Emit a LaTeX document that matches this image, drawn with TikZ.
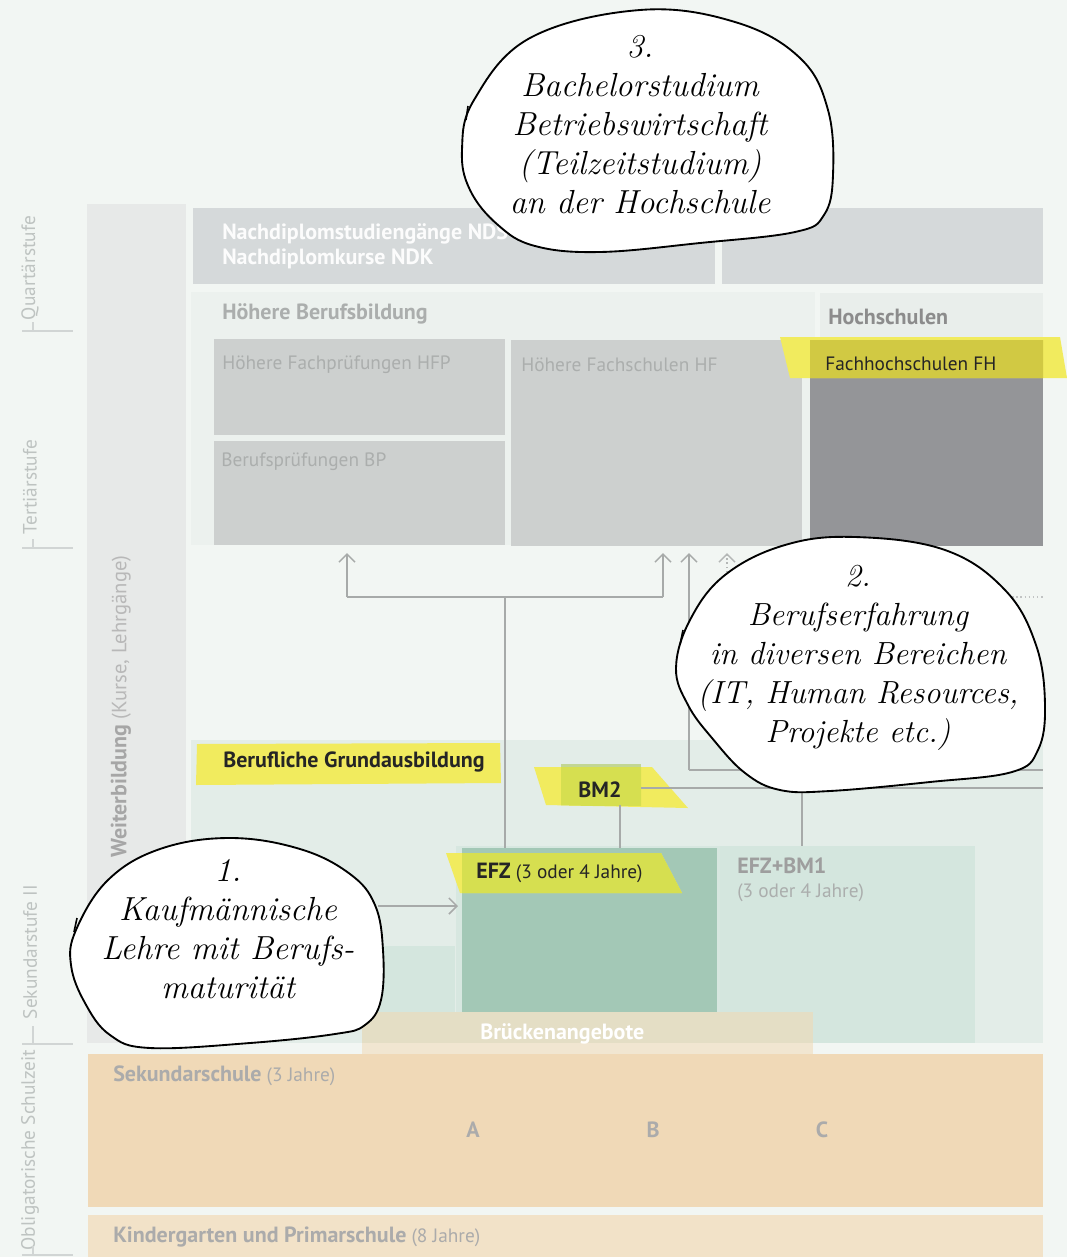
\documentclass[tikz,border=0pt]{standalone}
\usepackage{fontspec}
\newfontfamily\dsans{PT Sans}
\usetikzlibrary{arrows.meta}
\definecolor{bg}{HTML}{F2F6F3}
\definecolor{wbbar}{HTML}{E7E9E8}
\definecolor{ndgray}{HTML}{D5D9DA}
\definecolor{hbpanel}{HTML}{ECF1EE}
\definecolor{hspanel}{HTML}{E9EEEB}
\definecolor{boxgray}{HTML}{CDD0CF}
\definecolor{fhdark}{HTML}{949598}
\definecolor{hlyellow}{HTML}{F1EB5E}
\definecolor{olive}{HTML}{D1C943}
\definecolor{greenyellow}{HTML}{D6DF50}
\definecolor{grundpanel}{HTML}{E3EDE8}
\definecolor{efzgreen}{HTML}{A3C8B6}
\definecolor{efzlight}{HTML}{D4E6DE}
\definecolor{bruecke}{HTML}{E4DEC5}
\definecolor{bruecketwo}{HTML}{F1E6D1}
\definecolor{sekcol}{HTML}{F0D9B7}
\definecolor{kindcol}{HTML}{F2E2C8}
\definecolor{linegray}{HTML}{A7AAA9}
\definecolor{txtgray}{HTML}{ABAEAD}
\definecolor{sidegray}{HTML}{BEC3C1}
\definecolor{darktxt}{HTML}{252525}
\newcommand\bigbold[1]{{\fontsize{16.5}{17}\selectfont\bfseries #1}}
\tikzset{
  lbl/.style={inner sep=0, anchor=west, font=\dsans\fontsize{14.5}{17}\selectfont},
  blbl/.style={lbl, font=\dsans\bfseries\fontsize{16.5}{18}\selectfont},
  side/.style={inner sep=0, rotate=90, text=sidegray, font=\dsans\fontsize{14.5}{16}\selectfont},
  conn/.style={draw=linegray, line width=1.3pt},
  arr/.style={conn, -{Straight Barb[length=6pt,width=12pt,line width=1.1pt]}},
  dotarr/.style={draw=linegray!85, line width=1.1pt, dotted, -{Straight Barb[length=6pt,width=12pt,line width=1.1pt]}},
  tick/.style={draw=sidegray!70, line width=0.9pt},
  bubble/.style={draw=black, fill=white, line width=1.4pt, line join=round},
  handtxt/.style={inner sep=0, align=center, font=\fontsize{25}{29.25}\selectfont\itshape},
}
\begin{document}
\begin{tikzpicture}[x=0.75pt,y=-0.75pt]
\useasboundingbox (0,0) rectangle (1067,1257);
\fill[bg] (0,0) rectangle (1067,1257);

% left Weiterbildung bar
\fill[wbbar] (87,204) rectangle (186,1043);

% quartaer
\fill[ndgray] (193,208) rectangle (715,284);
\fill[ndgray] (722,208) rectangle (1043,284);

% tertiaer panels
\fill[hbpanel] (191,292) rectangle (815,545);
\fill[hspanel] (820,293) rectangle (1043,545);
\fill[boxgray] (214,339) rectangle (505,435);
\fill[boxgray] (214,441) rectangle (505,545);
\fill[boxgray] (511,340) rectangle (802,546);
\fill[fhdark] (810,340) rectangle (1043,546);
% FH highlight
\fill[hlyellow] (780,337) -- (1060,337) -- (1067,378) -- (790,378) -- cycle;
\begin{scope}
  \clip (810,340) rectangle (1043,546);
  \fill[olive] (780,337) -- (1060,337) -- (1067,378) -- (790,378) -- cycle;
\end{scope}

% Grundausbildung panel
\fill[grundpanel] (191,740) rectangle (1043,1043);
\fill[efzlight] (362,946) rectangle (455,1043);
\fill[efzlight!80!grundpanel] (456,846) rectangle (720,1043);
\fill[efzgreen] (462,848) rectangle (717,1015);
\fill[efzlight] (720,846) rectangle (975,1043);
% Brueckenangebote
\fill[bruecke] (362,1012) rectangle (813,1043);
\fill[bruecketwo] (362,1043) rectangle (813,1054);

% yellow labels
\fill[hlyellow] (197,744) -- (500,743) -- (501,783) -- (196,785) -- cycle;
\fill[efzgreen!60!hlyellow] (561,764) rectangle (641,805);
\fill[hlyellow] (534,767) -- (652,767) -- (688,808) -- (546,805) -- cycle;
\begin{scope}
  \clip (561,764) rectangle (641,805);
  \fill[greenyellow] (534,767) -- (652,767) -- (688,808) -- (546,805) -- cycle;
\end{scope}
\fill[hlyellow] (446,853) -- (661,853) -- (682,893) -- (460,893) -- cycle;
\begin{scope}
  \clip (462,848) rectangle (717,1015);
  \fill[greenyellow] (446,853) -- (661,853) -- (682,893) -- (460,893) -- cycle;
\end{scope}

% bottom: obligatorische Schulzeit
\fill[sekcol] (88,1054) rectangle (1043,1207);
\fill[kindcol] (88,1215) rectangle (1043,1257);

% connectors
\coordinate (bpArr) at (347,553);
\coordinate (hfArrA) at (663,553);
\coordinate (hfArrB) at (689,553);
\coordinate (hfArrC) at (727,553);
\coordinate (jA) at (347,597);
\coordinate (jB) at (663,597);
\coordinate (jV) at (505,597);
\coordinate (efzTop) at (505,848);
\coordinate (expA) at (689,770);
\coordinate (expEnd) at (1043,770);
\coordinate (dotJ) at (727,597);
\coordinate (dotEnd) at (1043,597);
\coordinate (bmA) at (641,788);
\coordinate (bmEnd) at (1043,788);
\coordinate (bmJ) at (802,788);
\coordinate (bmoneTop) at (802,846);
\coordinate (bmB) at (620,805);
\coordinate (bmC) at (620,848);
\coordinate (lehreA) at (378,906);
\coordinate (lehreB) at (458,906);

\draw[arr] (jA) -- (bpArr);
\draw[conn] (jA) -- (jB);
\draw[arr] (jB) -- (hfArrA);
\draw[conn] (jV) -- (efzTop);
\draw[arr] (expA) -- (hfArrB);
\draw[conn] (expA) -- (expEnd);
\draw[dotarr] (dotJ) -- (hfArrC);
\draw[draw=linegray!70, line width=1.1pt, dotted] (dotJ) -- (dotEnd);
\draw[conn] (bmA) -- (bmEnd);
\draw[conn] (bmJ) -- (bmoneTop);
\draw[conn] (bmB) -- (bmC);
\draw[arr] (lehreA) -- (lehreB);

% texts
\node[blbl, text=white!92!ndgray] (nds) at (222,234) {Nachdiplomstudiengänge NDS};
\node[blbl, text=white!92!ndgray] (ndk) at (222,259) {Nachdiplomkurse NDK};
\node[blbl, text=txtgray] (hbb) at (222,314) {Höhere Berufsbildung};
\node[blbl, text=black!45] (hs) at (828,317) {Hochschulen};
\node[lbl, text=txtgray] (hfp) at (222,365) {Höhere Fachprüfungen HFP};
\node[lbl, text=txtgray] (bp) at (221,462) {Berufsprüfungen BP};
\node[lbl, text=txtgray] (hf) at (521,365) {Höhere Fachschulen HF};
\node[lbl, text=darktxt] (fh) at (825,364) {Fachhochschulen FH};
\node[blbl, text=darktxt] (bga) at (223,762) {Berufliche Grundausbildung};
\node[blbl, anchor=center, text=darktxt] (bm2) at (600,790) {BM2};
\node[lbl, text=darktxt] (efz) at (476,873) {\bigbold{EFZ} (3 oder 4 Jahre)};
\node[blbl, text=black!38] (efzbm) at (737,866) {EFZ+BM1};
\node[lbl, text=txtgray] (efzbmj) at (737,893) {(3 oder 4 Jahre)};
\node[blbl, text=white] (bruecke) at (480,1034) {Brückenangebote};
\node[lbl, text=black!33] (sek) at (113,1076) {\bigbold{Sekundarschule} (3 Jahre)};
\node[blbl, anchor=center, text=black!33] (sa) at (473,1130) {A};
\node[blbl, anchor=center, text=black!33] (sb) at (653,1130) {B};
\node[blbl, anchor=center, text=black!33] (sc) at (822,1130) {C};
\node[lbl, text=black!33] (kg) at (113,1237) {\bigbold{Kindergarten und Primarschule} (8 Jahre)};

% Weiterbildung rotated
\node[inner sep=0, rotate=90, anchor=west, text=black!35, font=\dsans\fontsize{15.5}{17}\selectfont] (wb) at (121,858) {\bigbold{Weiterbildung} \textcolor{black!28}{(Kurse, Lehrgänge)}};

% side labels
\node[side] (quart) at (30,268) {Quartärstufe};
\node[side] (tert) at (30,487) {Tertiärstufe};
\node[side] (sekii) at (30,952) {Sekundarstufe II};
\node[side] (oblig) at (30,1150) {Obligatorische Schulzeit};
\draw[tick] (22,331) -- (73,331);
\draw[tick] (33,322) -- (33,331);
\draw[tick] (22,548) -- (73,548);
\draw[tick] (33,539) -- (33,548);
\draw[tick] (22,1044) -- (73,1044);
\draw[tick] (33,1026) -- (33,1044);
\draw[tick] (22,1255) -- (73,1255);
\draw[tick] (33,1246) -- (33,1255);

% bubble 3
\draw[bubble] plot[smooth cycle, tension=0.65] coordinates {
 (640,10) (735,22) (800,58) (828,110) (833,175) (824,215) (795,232)
 (700,243) (600,252) (535,246) (498,225) (470,190) (462,150) (474,100) (530,38)};
\draw[line width=1.2pt] (468,106) -- (466,120);
\node[handtxt] (bubthree) at (640,125) {3.\\Bachelorstudium\\Betriebswirtschaft\\(Teilzeitstudium)\\an der Hochschule};

% bubble 2
\draw[bubble] plot[smooth cycle, tension=0.65] coordinates {
 (855,537) (945,550) (1005,590) (1036,645) (1045,705) (1038,750) (1012,772)
 (930,782) (830,791) (780,790) (745,773) (712,738) (688,705) (676,668) (690,620) (725,575) (785,545)};
\draw[line width=1.2pt] (683,630) -- (680,645);
\node[handtxt, font=\fontsize{24}{29.25}\selectfont\itshape] (bubtwo) at (858,658) {2.\\Berufserfahrung\\in diversen Bereichen\\(IT, Human Resources,\\Projekte etc.)};

% bubble 1
\draw[bubble] plot[smooth cycle, tension=0.65] coordinates {
 (230,838) (300,849) (350,874) (375,905) (383,950) (381,1000) (365,1025)
 (335,1034) (250,1043) (150,1048) (110,1035) (85,1003) (71,965) (76,930) (108,880) (160,849)};
\draw[line width=1.2pt] (77,918) -- (74,932);
\node[handtxt] (bubone) at (228,929) {1.\\Kaufmännische\\Lehre mit Berufs-\\maturität};
\end{tikzpicture}
\end{document}
